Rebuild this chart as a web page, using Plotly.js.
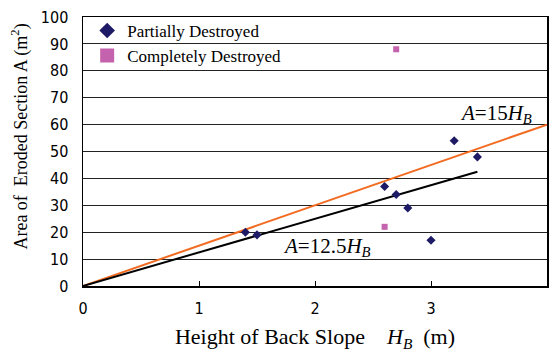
<!DOCTYPE html>
<html><head><meta charset="utf-8">
<script src="https://cdn.plot.ly/plotly-3.0.1.min.js"></script>
<style>html,body{margin:0;padding:0;background:#fff}#c{width:549px;height:353px}</style>
</head><body><div id="c"></div>
<script>
const partialX = [1.4, 1.5, 2.6, 2.7, 2.8, 3.0, 3.2, 3.4];
const partialY = [20, 19, 37, 34, 29, 17, 54, 48];
const completeX = [2.6, 2.7];
const completeY = [22, 88];
const line15X = [0, 4];
const line15Y = [0, 60];
const line125X = [0, 3.4];
const line125Y = [0, 42.5];
const xTicks = [0, 1, 2, 3, 4];
const yTicks = [0, 10, 20, 30, 40, 50, 60, 70, 80, 90, 100];
const seriesNames = ['Partially Destroyed', 'Completely Destroyed'];

const serif = "Liberation Serif, Times New Roman, serif";
const sans = "DejaVu Sans Condensed, Liberation Sans, sans-serif";
const navy = '#1f1a66', pink = '#c462ad';

const traces = [
  {x: line15X, y: line15Y, mode: 'lines', line: {color: '#f26b21', width: 2}, showlegend: false, hoverinfo: 'skip'},
  {x: line125X, y: line125Y, mode: 'lines', line: {color: '#000000', width: 2}, showlegend: false, hoverinfo: 'skip'},
  {x: partialX, y: partialY, mode: 'markers', name: seriesNames[0], showlegend: false,
   marker: {symbol: 'diamond', size: 7, color: navy}},
  {x: completeX, y: completeY, mode: 'markers', name: seriesNames[1], showlegend: false,
   marker: {symbol: 'square', size: 6, color: pink}},
  {x: [null], y: [null], mode: 'markers', name: seriesNames[0],
   marker: {symbol: 'diamond', size: 12, color: navy}},
  {x: [null], y: [null], mode: 'markers', name: seriesNames[1],
   marker: {symbol: 'square', size: 14, color: pink}}
];

const layout = {
  width: 549, height: 353,
  margin: {l: 83, r: 2, t: 17, b: 67},
  paper_bgcolor: '#fff', plot_bgcolor: '#fff',
  showlegend: true,
  legend: {x: 0.009, y: 1.015, xanchor: 'left', yanchor: 'top', bgcolor: 'rgba(0,0,0,0)',
           font: {family: serif, size: 17, color: '#000'}, tracegroupgap: 0},
  xaxis: {range: [0, 4], tickvals: xTicks, ticktext: xTicks.map(String),
          showgrid: false, zeroline: false, showline: true, linecolor: '#000', linewidth: 1.5, mirror: true,
          ticks: 'inside', ticklen: 5, tickcolor: '#000',
          tickfont: {family: sans, size: 16, color: '#000'}, ticklabelstandoff: 7,
          title: {text: 'Height of Back Slope    <i>H</i><sub><i>B</i></sub>  (m)', font: {family: serif, size: 22, color: '#000'}, standoff: 12}},
  yaxis: {range: [0, 100], tickvals: yTicks, ticktext: yTicks.map(String),
          showgrid: true, gridcolor: '#222', gridwidth: 1, zeroline: false,
          showline: true, linecolor: '#000', linewidth: 1.5, mirror: true, ticks: '',
          tickfont: {family: sans, size: 16, color: '#000'}, ticklabelstandoff: 10},
  annotations: [
    {x: -0.136, y: 0.555, xref: 'paper', yref: 'paper', xanchor: 'center', yanchor: 'middle', textangle: -90,
     text: 'Area of  Eroded Section A (m<sup>2</sup>)', showarrow: false,
     font: {family: serif, size: 18, color: '#000'}},
    {x: 3.89, y: 64, xref: 'x', yref: 'y', xanchor: 'right', text: '<i>A</i>=15<i>H<sub>B</sub></i>', showarrow: false,
     font: {family: serif, size: 21, color: '#000'}},
    {x: 2.1, y: 14.5, xref: 'x', yref: 'y', text: '<i>A</i>=12.5<i>H<sub>B</sub></i>', showarrow: false,
     font: {family: serif, size: 21, color: '#000'}}
  ]
};
Plotly.newPlot('c', traces, layout, {displayModeBar: false, staticPlot: true});
</script></body></html>
